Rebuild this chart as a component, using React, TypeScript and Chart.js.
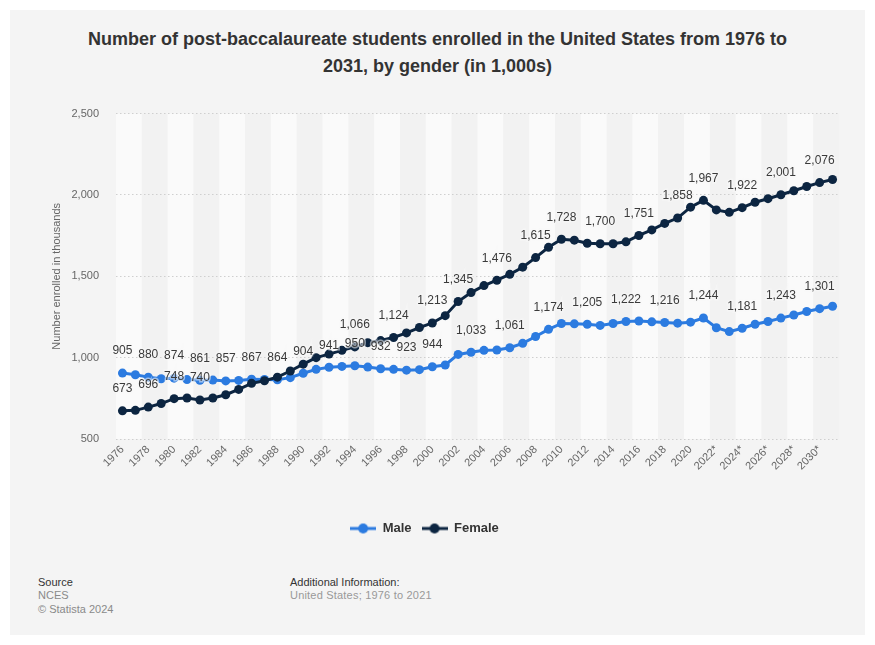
import React, { useEffect, useRef } from 'react';
import { Chart, registerables } from 'chart.js';

Chart.register(...registerables);

const years: number[] = [
  1976, 1977, 1978, 1979, 1980, 1981, 1982, 1983, 1984, 1985,
  1986, 1987, 1988, 1989, 1990, 1991, 1992, 1993, 1994, 1995,
  1996, 1997, 1998, 1999, 2000, 2001, 2002, 2003, 2004, 2005,
  2006, 2007, 2008, 2009, 2010, 2011, 2012, 2013, 2014, 2015,
  2016, 2017, 2018, 2019, 2020, 2021, 2022, 2023, 2024, 2025,
  2026, 2027, 2028, 2029, 2030, 2031,
];
const firstProjectedYear = 2022;
const categories: string[] = years.map((y) => (y >= firstProjectedYear ? `${y}*` : `${y}`));

const maleValues: number[] = [
  905, 895, 880, 870, 874, 865, 861, 862, 857, 860,
  867, 866, 864, 877, 904, 928, 941, 946, 950, 942,
  932, 928, 923, 926, 944, 955, 1020, 1033, 1045, 1047,
  1061, 1088, 1130, 1174, 1210, 1208, 1205, 1198, 1210, 1222,
  1225, 1220, 1216, 1212, 1218, 1244, 1184, 1160, 1181, 1205,
  1222, 1243, 1262, 1284, 1301, 1316,
];
const femaleValues: number[] = [
  673, 676, 696, 718, 748, 752, 740, 752, 772, 805,
  842, 858, 880, 918, 960, 1000, 1022, 1045, 1066, 1092,
  1105, 1124, 1152, 1185, 1213, 1258, 1345, 1400, 1443, 1476,
  1512, 1556, 1615, 1678, 1728, 1722, 1703, 1700, 1700, 1712,
  1751, 1785, 1825, 1858, 1925, 1967, 1908, 1893, 1922, 1955,
  1977, 2001, 2026, 2052, 2076, 2095,
];
const maleLabelYears: number[] = [
  1976, 1978, 1980, 1982, 1984, 1986, 1988, 1990, 1992, 1994, 1996, 1998,
  2000, 2003, 2006, 2009, 2012, 2015, 2018, 2021, 2024, 2027, 2030,
];
const femaleLabelYears: number[] = [
  1976, 1978, 1980, 1982, 1994, 1997, 2000, 2002, 2005, 2008, 2010, 2013,
  2016, 2019, 2021, 2024, 2027, 2030,
];
const yTicks: number[] = [500, 1000, 1500, 2000, 2500];

const MALE_COLOR = '#2c7be0';
const FEMALE_COLOR = '#0c2541';
const FONT = '"Liberation Sans", Arial, Helvetica, sans-serif';

function makeIcon(color: string): HTMLCanvasElement {
  const c = document.createElement('canvas');
  c.width = 26;
  c.height = 12;
  const ctx = c.getContext('2d')!;
  ctx.strokeStyle = color;
  ctx.lineWidth = 3;
  ctx.beginPath();
  ctx.moveTo(0, 6);
  ctx.lineTo(26, 6);
  ctx.stroke();
  ctx.fillStyle = color;
  ctx.beginPath();
  ctx.arc(13, 6, 5, 0, Math.PI * 2);
  ctx.fill();
  return c;
}

const stripePlugin = {
  id: 'stripes',
  beforeDraw(chart: any) {
    const { ctx, chartArea, scales } = chart;
    const x = scales.x;
    const half = (x.getPixelForValue(1) - x.getPixelForValue(0)) / 2;
    ctx.save();
    for (let i = 0; i < categories.length; i += 2) {
      const left = x.getPixelForValue(i) - half;
      const right = Math.min(x.getPixelForValue(Math.min(i + 1, categories.length - 1)) + half, chartArea.right);
      ctx.fillStyle = (i / 2) % 2 === 0 ? '#fafafa' : '#f2f2f2';
      ctx.fillRect(left, chartArea.top, right - left, chartArea.bottom - chartArea.top);
    }
    ctx.restore();
  },
};

const labelPlugin = {
  id: 'pointLabels',
  afterDatasetsDraw(chart: any) {
    const ctx = chart.ctx;
    const lists = [maleLabelYears, femaleLabelYears];
    ctx.save();
    ctx.font = `12px ${FONT}`;
    ctx.textAlign = 'center';
    ctx.textBaseline = 'middle';
    chart.data.datasets.forEach((ds: any, di: number) => {
      const meta = chart.getDatasetMeta(di);
      meta.data.forEach((pt: any, i: number) => {
        if (!lists[di].includes(years[i])) return;
        const text = Number(ds.data[i]).toLocaleString('en-US');
        ctx.lineWidth = 3;
        ctx.strokeStyle = 'rgba(248,248,248,0.55)';
        ctx.strokeText(text, pt.x, pt.y - 22);
        ctx.fillStyle = '#3a3a3a';
        ctx.fillText(text, pt.x, pt.y - 22);
      });
    });
    ctx.restore();
  },
};

export default function App() {
  const canvasRef = useRef<HTMLCanvasElement | null>(null);

  useEffect(() => {
    document.body.style.margin = '0';
    const icons = [makeIcon(MALE_COLOR), makeIcon(FEMALE_COLOR)];
    const chart = new Chart(canvasRef.current!, {
      type: 'line',
      data: {
        labels: categories,
        datasets: [
          {
            label: 'Male',
            data: maleValues,
            borderColor: MALE_COLOR,
            backgroundColor: MALE_COLOR,
            pointBackgroundColor: MALE_COLOR,
            pointBorderWidth: 0,
            pointRadius: 4.5,
            borderWidth: 3,
            tension: 0,
            order: 1,
          },
          {
            label: 'Female',
            data: femaleValues,
            borderColor: FEMALE_COLOR,
            backgroundColor: FEMALE_COLOR,
            pointBackgroundColor: FEMALE_COLOR,
            pointBorderWidth: 0,
            pointRadius: 4.5,
            borderWidth: 3,
            tension: 0,
            order: 0,
          },
        ],
      },
      options: {
        animation: false,
        responsive: false,
        maintainAspectRatio: false,
        layout: { padding: { top: 21, bottom: 5, left: 0, right: 26 } },
        font: { family: FONT },
        scales: {
          x: {
            type: 'category',
            offset: true,
            grid: { display: false, drawTicks: false },
            border: { display: false },
            ticks: {
              autoSkip: false,
              minRotation: 45,
              maxRotation: 45,
              padding: 4,
              color: '#666',
              font: { family: FONT, size: 11 },
              callback: (_v: any, i: number) => (i % 2 === 0 ? categories[i] : ''),
            },
            afterFit: (s: any) => {
              s.height = 73;
            },
          },
          y: {
            min: yTicks[0],
            max: yTicks[yTicks.length - 1],
            afterBuildTicks: (s: any) => {
              s.ticks = yTicks.map((v) => ({ value: v }));
            },
            grid: { color: '#cfcfcf', lineWidth: 1, drawTicks: false },
            border: { display: false, dash: [1.5, 2.5] },
            ticks: {
              padding: 17,
              color: '#666',
              font: { family: FONT, size: 11 },
              callback: (v: any) => Number(v).toLocaleString('en-US'),
            },
            title: {
              display: true,
              text: 'Number enrolled in thousands',
              color: '#666',
              font: { family: FONT, size: 11 },
              padding: { top: 40, bottom: 0 },
            },
            afterFit: (s: any) => {
              s.width = 106;
            },
          },
        },
        plugins: {
          legend: {
            display: true,
            position: 'bottom',
            labels: {
              usePointStyle: true,
              pointStyleWidth: 26,
              padding: 10,
              color: '#333',
              font: { family: FONT, size: 13, weight: 'bold' },
              sort: (a: any, b: any) => a.datasetIndex - b.datasetIndex,
              generateLabels: (ch: any) => {
                const items = (Chart.defaults.plugins.legend.labels as any).generateLabels(ch);
                items.forEach((it: any) => {
                  it.pointStyle = icons[it.datasetIndex];
                });
                return items;
              },
            },
          },
          tooltip: { enabled: false },
        },
      } as any,
      plugins: [stripePlugin, labelPlugin],
    });
    return () => chart.destroy();
  }, []);

  return (
    <div style={{ position: 'relative', width: 875, height: 645, background: '#ffffff', fontFamily: FONT, overflow: 'hidden' }}>
      <div style={{ position: 'absolute', left: 10, top: 10, width: 855, height: 625, background: '#f4f4f4' }} />
      <div
        style={{
          position: 'absolute',
          left: 10,
          top: 26,
          width: 855,
          textAlign: 'center',
          fontWeight: 'bold',
          fontSize: 18,
          lineHeight: '27px',
          color: '#333',
        }}
      >
        Number of post-baccalaureate students enrolled in the United States from 1976 to
        <br />
        2031, by gender (in 1,000s)
      </div>
      <canvas
        ref={canvasRef}
        width={855}
        height={460}
        style={{ position: 'absolute', left: 10, top: 90, width: 855, height: 460 }}
      />
      <div style={{ position: 'absolute', left: 38, top: 576, fontSize: 11, lineHeight: '13.3px' }}>
        <div style={{ color: '#333' }}>Source</div>
        <div style={{ color: '#8a8a8a' }}>NCES</div>
        <div style={{ color: '#8a8a8a' }}>© Statista 2024</div>
      </div>
      <div style={{ position: 'absolute', left: 290, top: 576, fontSize: 11, lineHeight: '13.3px' }}>
        <div style={{ color: '#333' }}>Additional Information:</div>
        <div style={{ color: '#999', letterSpacing: '0.2px' }}>United States; 1976 to 2021</div>
      </div>
    </div>
  );
}
